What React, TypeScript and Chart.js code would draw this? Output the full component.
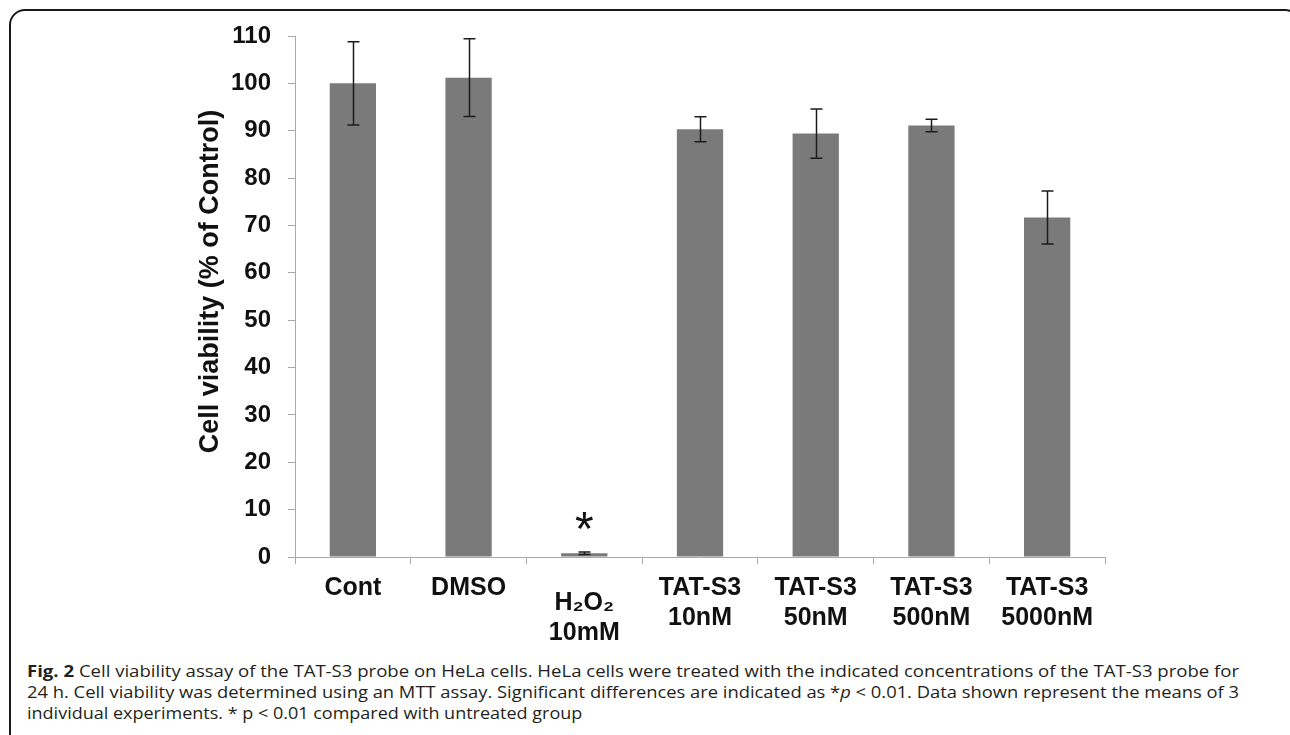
import React, { useEffect, useLayoutEffect, useRef } from "react";
import { Chart, registerables } from "chart.js";

Chart.register(...registerables);

// ---------- data ----------
const categories: string[][] = [
  ["Cont"],
  ["DMSO"],
  ["H₂O₂", "10mM"],
  ["TAT-S3", "10nM"],
  ["TAT-S3", "50nM"],
  ["TAT-S3", "500nM"],
  ["TAT-S3", "5000nM"],
];
const viability: number[] = [100, 101.2, 0.8, 90.3, 89.4, 91.1, 71.7];
const errorSD: number[] = [8.8, 8.2, 0.25, 2.65, 5.2, 1.3, 5.6];
const significant: boolean[] = [false, false, true, false, false, false, false];
const yTicks: number[] = [0, 10, 20, 30, 40, 50, 60, 70, 80, 90, 100, 110];
const yTitle = "Cell viability (% of Control)";
const significanceMark = "*";

const captionLine1 = [
  { t: "Fig. 2", b: true },
  { t: " Cell viability assay of the TAT-S3 probe on HeLa cells. HeLa cells were treated with the indicated concentrations of the TAT-S3 probe for" },
];
const captionLine2 = [
  { t: "24 h. Cell viability was determined using an MTT assay. Significant differences are indicated as *" },
  { t: "p", i: true },
  { t: " < 0.01. Data shown represent the means of 3" },
];
const captionLine3 = [{ t: "individual experiments. * p < 0.01 compared with untreated group" }];
const captionLines = [captionLine1, captionLine2, captionLine3];

// ---------- styles ----------
const FONT = '"Liberation Sans", Arial, Helvetica, sans-serif';
const BAR_COLOR = "#7a7a7a";
const AXIS_COLOR = "#a9a9a9";
const TEXT_COLOR = "#111111";

const xLabelPlugin = {
  id: "xLabelPlugin",
  afterDraw(chart: any) {
    const { ctx, chartArea } = chart;
    const x = chart.scales.x;
    ctx.save();
    ctx.font = `bold 25px ${FONT}`;
    ctx.fillStyle = TEXT_COLOR;
    ctx.textAlign = "center";
    ctx.textBaseline = "middle";
    categories.forEach((lines, i) => {
      const cx = x.getPixelForValue(i);
      const hasSub = /[\u2080-\u2089]/.test(lines[0]);
      const first = chartArea.bottom + 31 + (hasSub ? 15 : 0);
      lines.forEach((t, j) => ctx.fillText(t, cx, first + j * 30));
    });
    ctx.restore();
  },
};

const errorBarPlugin = {
  id: "errorBarPlugin",
  afterDatasetsDraw(chart: any) {
    const { ctx } = chart;
    const y = chart.scales.y;
    const meta = chart.getDatasetMeta(0);
    ctx.save();
    ctx.strokeStyle = "#1c1c1c";
    ctx.lineWidth = 1.5;
    meta.data.forEach((bar: any, i: number) => {
      const cx = Math.round(bar.x) + 0.5;
      const top = y.getPixelForValue(viability[i] + errorSD[i]);
      const bot = y.getPixelForValue(viability[i] - errorSD[i]);
      const cap = 6;
      ctx.beginPath();
      ctx.moveTo(cx, top);
      ctx.lineTo(cx, bot);
      ctx.moveTo(cx - cap, top);
      ctx.lineTo(cx + cap, top);
      ctx.moveTo(cx - cap, bot);
      ctx.lineTo(cx + cap, bot);
      ctx.stroke();
      if (significant[i]) {
        ctx.fillStyle = "#111";
        ctx.font = `48px ${FONT}`;
        ctx.textAlign = "center";
        ctx.textBaseline = "alphabetic";
        ctx.fillText(significanceMark, bar.x, top - 7);
      }
    });
    ctx.restore();
  },
};

export default function App() {
  const canvasRef = useRef<HTMLCanvasElement | null>(null);
  const lineRefs = useRef<(HTMLSpanElement | null)[]>([]);

  useEffect(() => {
    const canvas = canvasRef.current;
    if (!canvas) return;
    const chart = new Chart(canvas, {
      type: "bar",
      data: {
        labels: categories.map((c) => c.join(" ")),
        datasets: [
          {
            data: viability,
            backgroundColor: BAR_COLOR,
            borderWidth: 0,
            barPercentage: 0.4,
            categoryPercentage: 1.0,
          },
        ],
      },
      options: {
        responsive: false,
        maintainAspectRatio: false,
        devicePixelRatio: 1,
        animation: false,
        layout: { padding: { left: 0, right: 185, top: 36, bottom: 13 } },
        plugins: {
          legend: { display: false },
          tooltip: { enabled: false },
          title: { display: false },
        },
        scales: {
          x: {
            type: "category",
            offset: true,
            grid: {
              offset: true,
              drawOnChartArea: false,
              drawTicks: true,
              tickLength: 7,
              color: AXIS_COLOR,
              lineWidth: 1,
            },
            border: { display: true, color: AXIS_COLOR, width: 1 },
            ticks: { display: false },
            afterFit: (s: any) => {
              s.height = 80;
            },
          },
          y: {
            min: 0,
            max: 110,
            afterBuildTicks: (s: any) => {
              s.ticks = yTicks.map((v) => ({ value: v }));
            },
            grid: {
              drawOnChartArea: false,
              drawTicks: true,
              tickLength: 7,
              color: AXIS_COLOR,
              lineWidth: 1,
            },
            border: { display: true, color: AXIS_COLOR, width: 1 },
            ticks: {
              font: { family: FONT, size: 24, weight: "bold" },
              color: TEXT_COLOR,
              padding: 17,
            },
            title: {
              display: true,
              text: "    " + yTitle,
              font: { family: FONT, size: 27, weight: "bold" },
              color: TEXT_COLOR,
              padding: { top: 194, bottom: 0 },
            },
            afterFit: (s: any) => {
              s.width = 295;
            },
          },
        },
      },
      plugins: [errorBarPlugin, xLabelPlugin],
    });
    return () => chart.destroy();
  }, []);

  useLayoutEffect(() => {
    const fit = () => {
      const els = lineRefs.current;
      if (!els[0] || !els[1] || !els[2]) return;
      els.forEach((e) => e && (e.style.transform = "none"));
      const target = 1212;
      const w0 = els[0].getBoundingClientRect().width;
      const w1 = els[1].getBoundingClientRect().width;
      const s0 = target / w0;
      const s1 = target / w1;
      els[0].style.transform = `scaleX(${s0})`;
      els[1].style.transform = `scaleX(${s1})`;
      els[2].style.transform = `scaleX(${s0 * 0.97})`;
    };
    fit();
    if ((document as any).fonts && (document as any).fonts.ready) {
      (document as any).fonts.ready.then(fit);
    }
  }, []);

  return (
    <div
      style={{
        position: "absolute",
        left: 0,
        top: 0,
        width: 1290,
        height: 735,
        overflow: "hidden",
        background: "#ffffff",
      }}
    >
      <div
        style={{
          position: "absolute",
          left: 9,
          top: 9,
          width: 1292,
          height: 780,
          border: "2px solid #1a1a1a",
          borderRadius: 16,
          boxSizing: "border-box",
        }}
      />
      <canvas
        ref={canvasRef}
        width={1290}
        height={650}
        style={{ position: "absolute", left: 0, top: 0, width: 1290, height: 650 }}
      />
      <div
        style={{
          position: "absolute",
          left: 27,
          top: 661,
          fontFamily: '"Open Sans", "Noto Sans", sans-serif',
          fontSize: 16,
          color: "#231f20",
        }}
      >
        {captionLines.map((line, li) => (
          <div key={li} style={{ height: 21, lineHeight: "21px", whiteSpace: "nowrap" }}>
            <span
              ref={(el) => {
                lineRefs.current[li] = el;
              }}
              style={{ display: "inline-block", transformOrigin: "0 50%" }}
            >
              {line.map((seg: any, si: number) => (
                <span
                  key={si}
                  style={{
                    fontWeight: seg.b ? 700 : 400,
                    fontStyle: seg.i ? "italic" : "normal",
                    whiteSpace: "pre",
                  }}
                >
                  {seg.t}
                </span>
              ))}
            </span>
          </div>
        ))}
      </div>
    </div>
  );
}
